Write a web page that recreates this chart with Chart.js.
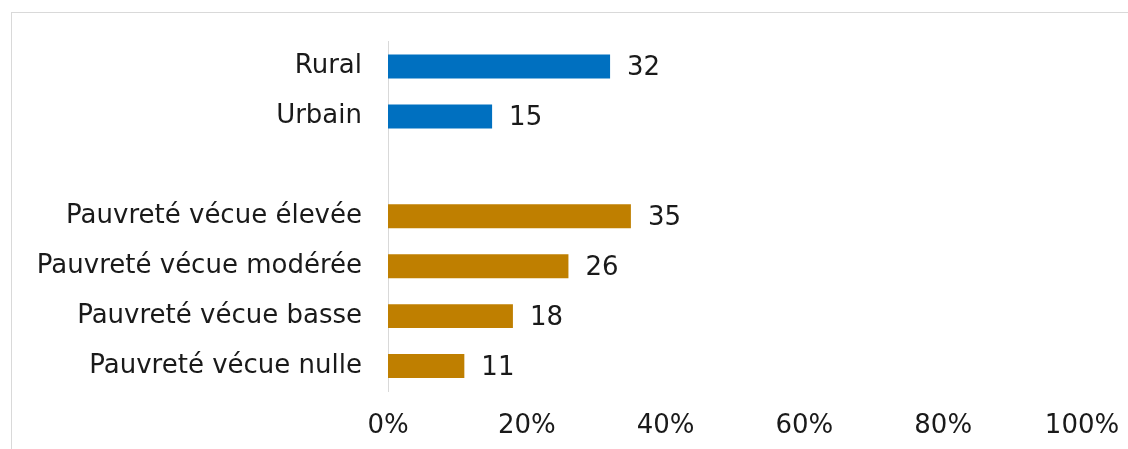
<!DOCTYPE html>
<html lang="fr">
<head>
<meta charset="utf-8">
<title>Pauvreté vécue</title>
<script src="https://cdn.jsdelivr.net/npm/chart.js@4"></script>
<style>
  html, body { margin: 0; padding: 0; background: #fff; overflow: hidden; }
  #wrap { position: relative; width: 1128px; height: 449px; }
  #frame { position: absolute; left: 11px; top: 12px; width: 1200px; height: 500px; border: 1px solid #d9d9d9; }
  canvas { position: absolute; left: 0; top: 0; }
</style>
</head>
<body>
<div id="wrap">
  <div id="frame"></div>
  <canvas id="chart" width="1128" height="449"></canvas>
</div>
<script>
const categories = ["Rural", "Urbain", "", "Pauvreté vécue élevée", "Pauvreté vécue modérée", "Pauvreté vécue basse", "Pauvreté vécue nulle"];
const values = [32, 15, null, 35, 26, 18, 11];
const barColors = ["#0070C0", "#0070C0", "#0070C0", "#BF7F00", "#BF7F00", "#BF7F00", "#BF7F00"];
const xTicks = [0, 20, 40, 60, 80, 100];

const FONT = "'DejaVu Sans', sans-serif";
const FONT_SIZE = 26;

// value labels next to the end of each bar
const valueLabels = {
  id: "valueLabels",
  afterDatasetsDraw(chart) {
    const ctx = chart.ctx;
    const meta = chart.getDatasetMeta(0);
    ctx.save();
    ctx.font = FONT_SIZE + "px " + FONT;
    ctx.fillStyle = "#1a1a1a";
    ctx.textAlign = "left";
    ctx.textBaseline = "middle";
    meta.data.forEach((bar, i) => {
      if (values[i] === null) return;
      ctx.fillText(String(values[i]), bar.x + 17, bar.y + 2);
    });
    ctx.restore();
  }
};

new Chart(document.getElementById("chart"), {
  type: "bar",
  data: {
    labels: categories,
    datasets: [{
      data: values,
      backgroundColor: barColors,
      categoryPercentage: 1,
      barPercentage: 0.48
    }]
  },
  options: {
    indexAxis: "y",
    responsive: false,
    animation: false,
    layout: { padding: { top: 41, right: 46, bottom: 0, left: 0 } },
    plugins: { legend: { display: false }, tooltip: { enabled: false } },
    scales: {
      x: {
        min: 0,
        max: 100,
        afterBuildTicks: (scale) => { scale.ticks = xTicks.map(v => ({ value: v })); },
        afterFit: (scale) => {
          scale.height = 58;
          // the outer labels may overhang; keep the plot width fixed
          scale.paddingLeft = 0;
          scale.paddingRight = 0;
        },
        grid: { display: false, drawTicks: false },
        border: { display: false },
        ticks: {
          padding: 20,
          color: "#1a1a1a",
          font: { family: FONT, size: FONT_SIZE },
          callback: (v) => v + "%"
        }
      },
      y: {
        afterFit: (scale) => { scale.width = 388; },
        grid: { display: false, drawTicks: false },
        border: { display: true, color: "#d9d9d9", width: 1 },
        ticks: {
          padding: 26,
          color: "#1a1a1a",
          font: { family: FONT, size: FONT_SIZE }
        }
      }
    }
  },
  plugins: [valueLabels]
});
</script>
</body>
</html>
